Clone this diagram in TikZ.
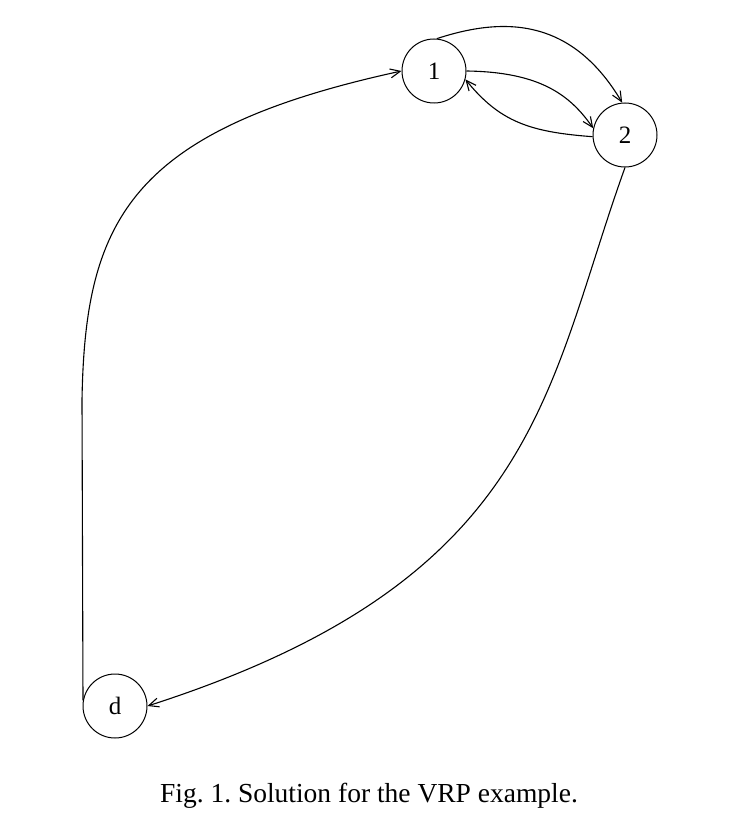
\documentclass[tikz,border=0pt]{standalone}
\usepackage{fontspec}
\setmainfont{Liberation Serif}
\usetikzlibrary{arrows.meta}
\frenchspacing
\begin{document}
\begin{tikzpicture}[x=1pt,y=-1pt,
  vert/.style={circle,draw,line width=1pt,minimum size=64pt,inner sep=0pt,font=\fontsize{25}{27}\selectfont},
  edge/.style={line width=1.1pt,-{Straight Barb[length=10pt,width=9pt]}}]
\useasboundingbox (0,0) rectangle (742,832);
\node[vert] (n1) at (434,71) {1};
\node[vert] (n2) at (625,135) {2};
\node[vert] (d) at (115,706) {d};
\draw[edge] (n1.85) .. controls (500,18) and (570,15) .. (n2.95);
\draw[edge] (n1.east) .. controls (540,72) and (570,95) .. (n2.168);
\draw[edge] (n2.183) .. controls (530,132) and (500,122) .. (n1.-15);
\draw[edge] (n2.270) .. controls (545,390) and (540,580) .. (d.east);
\coordinate (m) at (82,400);
\draw[edge] (d.170) -- (m) .. controls (85,220) and (130,130) .. (n1.west);
\node[font=\fontsize{27.5}{30}\selectfont] (cap) at (369,796) {Fig. 1. Solution for the VRP example.};
\end{tikzpicture}
\end{document}
